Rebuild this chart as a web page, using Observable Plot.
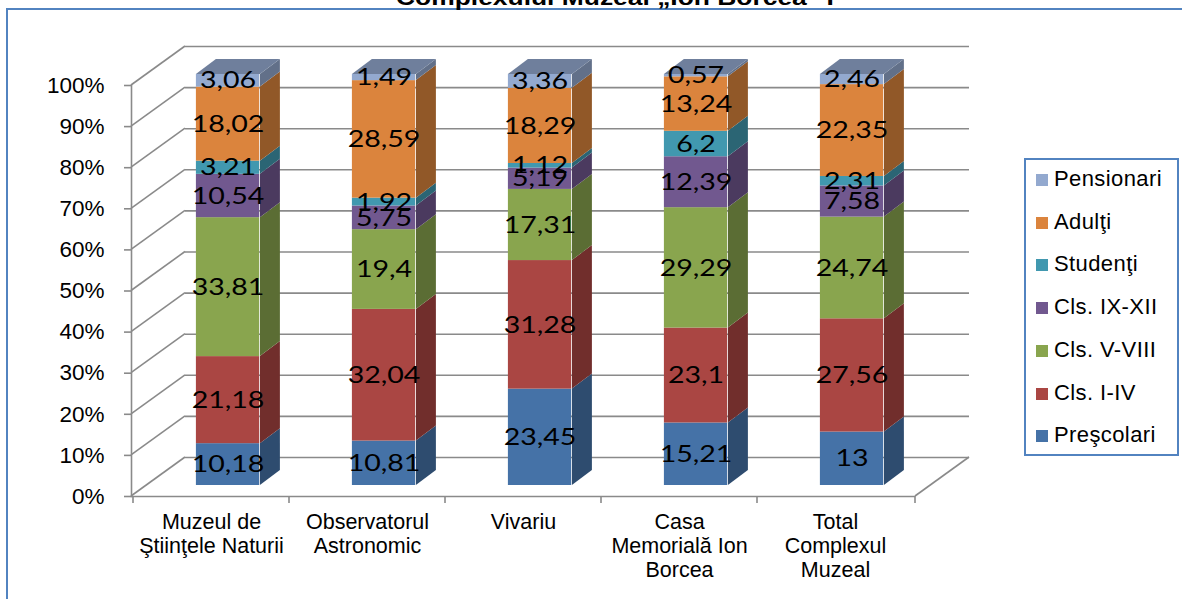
<!DOCTYPE html>
<html><head><meta charset="utf-8">
<script src="https://cdn.jsdelivr.net/npm/d3@7"></script>
<script src="https://cdn.jsdelivr.net/npm/@observablehq/plot@0.6"></script>
<style>
body{margin:0;background:#fff;width:1182px;height:599px;overflow:hidden;position:relative;font-family:"Liberation Sans",Arial,sans-serif}
#frame{position:absolute;left:6px;top:8px;width:1300px;height:800px;border-left:2px solid #5283c0;border-top:2px solid #5283c0}
#title{position:absolute;left:0;width:1230px;top:-15px;text-align:center;font-weight:bold;font-size:22px;line-height:26px;color:#000;white-space:nowrap;transform:scaleX(1.2);transform-origin:615px 0}
#chart{position:absolute;left:0;top:0}
#legend{position:absolute;left:1024px;top:158px;width:151px;height:294px;border:2px solid #5283c0;background:#fff}
.item{position:absolute;left:10px;height:24px;line-height:24px;font-size:22px;color:#000;white-space:nowrap;letter-spacing:0.4px}
.sw{display:inline-block;width:12px;height:12px;margin-right:6px;vertical-align:0px}
</style></head>
<body>
<div id="frame"></div>
<div id="title">Complexului Muzeal „Ion Borcea" I</div>
<div id="chart"></div>
<div id="legend"></div>
<script>
const categories = ["Muzeul de\nŞtiinţele Naturii", "Observatorul\nAstronomic", "Vivariu", "Casa\nMemorială Ion\nBorcea", "Total\nComplexul\nMuzeal"];
const seriesNames = ["Preşcolari", "Cls. I-IV", "Cls. V-VIII", "Cls. IX-XII", "Studenţi", "Adulţi", "Pensionari"];
const prescolari = [10.18, 10.81, 23.45, 15.21, 13];
const clsI_IV   = [21.18, 32.04, 31.28, 23.1, 27.56];
const clsV_VIII = [33.81, 19.4, 17.31, 29.29, 24.74];
const clsIX_XII = [10.54, 5.75, 5.19, 12.39, 7.58];
const studenti  = [3.21, 1.92, 1.12, 6.2, 2.31];
const adulti    = [18.02, 28.59, 18.29, 13.24, 22.35];
const pensionari = [3.06, 1.49, 3.36, 0.57, 2.46];
const yTicks = [0, 10, 20, 30, 40, 50, 60, 70, 80, 90, 100];
const colors = ["#4572A7", "#AA4643", "#89A54E", "#71588F", "#4198AF", "#DB843D", "#93A9CF"];

const seriesValues = [prescolari, clsI_IV, clsV_VIII, clsIX_XII, studenti, adulti, pensionari];
const rows = [];
categories.forEach((cat, i) => {
  let acc = 0;
  seriesValues.forEach((vals, j) => {
    const v = vals[i];
    rows.push({cat, series: seriesNames[j], value: v, y1: acc, y2: acc + v, top: j === seriesValues.length - 1});
    acc += v;
  });
});
const fmt = v => String(v).replace(".", ",");

const W = 1182, H = 599, mL = 131, mR = W - 915, mT = 85, mB = H - 496;
const DX = 54, DY = -39;       // wall depth
const BX = 16.5, BY = -11;     // bar front offset inside depth
const BD = 20, BDY = -15;      // bar depth
const BW = 64;                 // bar front width
const bw = (W - mL - mR) / categories.length;
const insetL = bw / 2 - BW / 2 + BX, insetR = bw / 2 - BW / 2 - BX;
const grid = "#8a8a8a";

function walls(index, scales, values, dims) {
  const g = d3.create("svg:g").attr("stroke", grid).attr("stroke-width", 1.6).attr("fill", "none");
  const y = scales.y;
  const xL = dims.marginLeft, xR = dims.width - dims.marginRight, y0 = y(0);
  for (const t of yTicks) {
    g.append("line").attr("x1", xL).attr("y1", y(t)).attr("x2", xL + DX).attr("y2", y(t) + DY);
  }
  g.append("line").attr("x1", xR).attr("y1", y0).attr("x2", xR + DX).attr("y2", y0 + DY);
  for (let i = 0; i <= categories.length; i++) {
    const xx = i < categories.length ? scales.x(categories[i]) : xR;
    g.append("line").attr("x1", xx).attr("y1", y0).attr("x2", xx).attr("y2", y0 + 7);
  }
  return g.node();
}

function faces(index, scales, values, dims) {
  const g = d3.create("svg:g");
  const {x, y} = scales;
  for (const r of rows) {
    const base = d3.color(colors[seriesNames.indexOf(r.series)]);
    const xl = x(r.cat) + insetL, xr = x(r.cat) + bw - insetR;
    const ya = y(r.y1) + BY, yb = y(r.y2) + BY;
    g.append("path")
      .attr("d", `M${xr},${ya}L${xr},${yb}L${xr + BD},${yb + BDY}L${xr + BD},${ya + BDY}Z`)
      .attr("fill", base.darker(1.15));
    if (r.top) {
      g.append("path")
        .attr("d", `M${xl},${yb}L${xr},${yb}L${xr + BD},${yb + BDY}L${xl + BD},${yb + BDY}Z`)
        .attr("fill", base.darker(0.8));
    }
  }
  return g.node();
}

const chart = Plot.plot({
  width: W, height: H,
  marginLeft: mL, marginRight: mR, marginTop: mT, marginBottom: mB,
  style: {background: "transparent", color: "#000", fontFamily: "'Liberation Sans', Arial, sans-serif"},
  x: {domain: categories, padding: 0, axis: null},
  y: {domain: [0, 100], axis: null},
  color: {domain: seriesNames, range: colors},
  marks: [
    Plot.ruleY(yTicks, {dx: DX, dy: DY, stroke: grid, strokeWidth: 1.6}),
    walls,
    Plot.ruleY([0], {stroke: grid, strokeWidth: 1.6}),
    Plot.frame({anchor: "left", stroke: grid, strokeWidth: 1.6}),
    Plot.axisY({ticks: yTicks, tickFormat: d => d + "%", tickSize: 7, tickPadding: 20, fontSize: 22.5, stroke: grid, strokeWidth: 1.6}),
    Plot.barY(rows, {x: "cat", y1: "y1", y2: "y2", fill: "series", insetLeft: insetL, insetRight: insetR, dy: BY}),
    faces,
    Plot.text(rows, {x: "cat", y: d => (d.y1 + d.y2) / 2, text: d => fmt(d.value), dx: BX, dy: BY, fontSize: 24, fontFamily: "Lato", fill: "#000"}),
    Plot.text(categories, {x: d => d, frameAnchor: "bottom", lineAnchor: "top", dy: 16, fontSize: 21.5, lineHeight: 1.1, fill: "#000"})
  ]
});
document.getElementById("chart").appendChild(chart);

// horizontal stretch of the data labels, as in the reference
chart.querySelectorAll('g[font-family="Lato"] text').forEach(t => {
  const tr = t.getAttribute("transform");
  if (tr) {
    t.setAttribute("transform", tr + " scale(1.19,1)");
  } else {
    const x = +t.getAttribute("x") || 0, y = +t.getAttribute("y") || 0;
    t.removeAttribute("x"); t.removeAttribute("y");
    t.setAttribute("transform", `translate(${x},${y}) scale(1.19,1)`);
  }
});

const legend = document.getElementById("legend");
seriesNames.slice().reverse().forEach((name, i) => {
  const c = colors[seriesNames.indexOf(name)];
  const div = document.createElement("div");
  div.className = "item";
  div.style.top = (19 - 12 + i * 42.7) + "px";
  div.innerHTML = `<span class="sw" style="background:${c}"></span>${name}`;
  legend.appendChild(div);
});
</script>
</body></html>
